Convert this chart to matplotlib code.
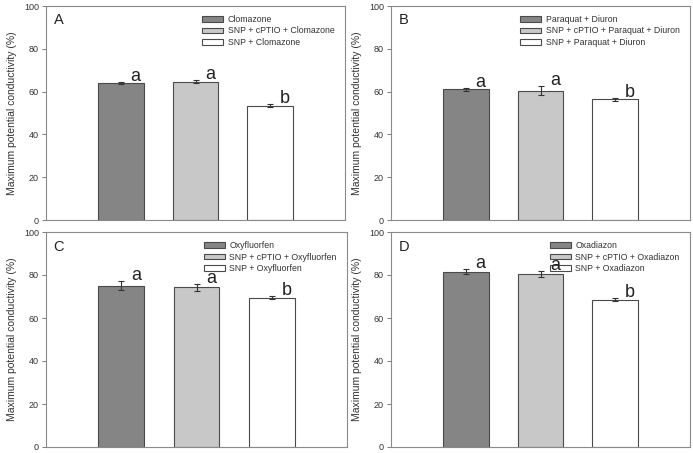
import numpy as np
import matplotlib.pyplot as plt

plt.rcParams['font.family'] = ['Liberation Sans', 'DejaVu Sans']

panels = ['A', 'B', 'C', 'D']
herbicides = ['Clomazone', 'Paraquat + Diuron', 'Oxyfluorfen', 'Oxadiazon']
means_A = [64.0, 64.6, 53.3]
means_B = [61.0, 60.5, 56.5]
means_C = [75.0, 74.3, 69.5]
means_D = [81.5, 80.5, 68.6]
err_A = [0.5, 0.7, 0.7]
err_B = [0.5, 1.9, 0.7]
err_C = [2.2, 1.7, 0.6]
err_D = [1.1, 1.3, 0.8]
letters = ['a', 'a', 'b']

means = [means_A, means_B, means_C, means_D]
errs = [err_A, err_B, err_C, err_D]
colors = ['#858585', '#c8c8c8', '#ffffff']

fig = plt.figure(figsize=(6.93, 4.53), dpi=100)
W, H = 693, 453
boxes = [(46, 6, 299, 214), (391, 6, 299, 214), (46, 232, 301, 215), (391, 232, 299, 215)]

for i, (lx, ty, w, h) in enumerate(boxes):
    ax = fig.add_axes([lx / W, 1 - (ty + h) / H, w / W, h / H])
    herb = herbicides[i]
    labels = [herb, 'SNP + cPTIO + ' + herb, 'SNP + ' + herb]
    x = np.arange(3)
    bars = ax.bar(x, means[i], width=0.61, color=colors, edgecolor='#4a4a4a',
                  linewidth=0.8, zorder=2)
    ax.errorbar(x, means[i], yerr=errs[i], fmt='none', ecolor='#333333',
                elinewidth=0.8, capsize=2.5, capthick=0.8, zorder=3)
    for j in range(3):
        ax.text(x[j] + 0.2, means[i][j] + errs[i][j] + 0.5, letters[j],
                ha='center', va='baseline', fontsize=13, color='#222222', zorder=6)
    ax.text(-0.9, 96.5, panels[i], fontsize=10.5, va='top', ha='left', color='#222222')
    leg = ax.legend(bars, labels, loc='upper right', frameon=False, fontsize=6.3,
                    handlelength=2.4, handleheight=0.6, handletextpad=0.5,
                    labelspacing=0.3, borderaxespad=0,
                    bbox_to_anchor=(0.977, 0.975))
    for t in leg.get_texts():
        t.set_color('#333333')
    ax.set_xlim(-1, 3)
    ax.set_ylim(0, 100)
    ax.set_yticks([0, 20, 40, 60, 80, 100])
    ax.set_xticks([])
    ax.tick_params(axis='y', labelsize=6.5, length=3, width=0.6,
                   color='#666666', labelcolor='#333333', pad=2)
    for s in ax.spines.values():
        s.set_color('#8a8a8a')
        s.set_linewidth(0.8)
    ax.set_ylabel('Maximum potential conductivity (%)', fontsize=7.5,
                  color='#333333', labelpad=5)

fig.savefig('out.png', dpi=100)
